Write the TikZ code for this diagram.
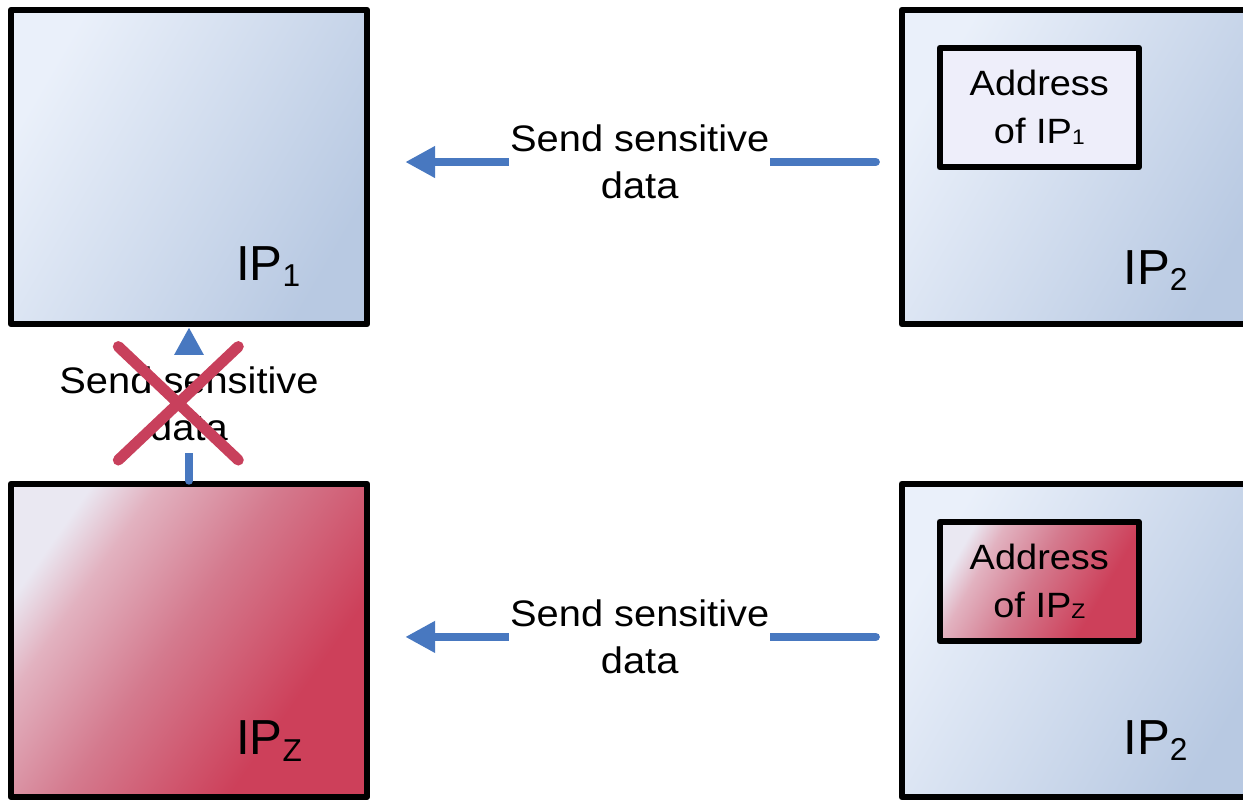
\documentclass[tikz,border=0pt]{standalone}
\usepackage{fontspec}
\setmainfont{Liberation Sans}
\newfontfamily\msgfont{Liberation Sans}[FakeStretch=1.08]
\usepackage{xcolor}
\usepackage{tikz}
\usetikzlibrary{shapes, shapes.misc, arrows.meta, positioning, calc}

\definecolor{ipLight}{RGB}{234,240,250}
\definecolor{ipDark}{RGB}{184,201,226}
\definecolor{zLight}{RGB}{234,232,242}
\definecolor{zPale}{RGB}{226,178,192}
\definecolor{zMid}{RGB}{212,122,142}
\definecolor{zDark}{RGB}{205,64,90}
\definecolor{addrFill}{RGB}{238,238,250}
\definecolor{flowBlue}{RGB}{72,120,192}
\definecolor{stopRed}{RGB}{200,64,92}

\pgfdeclareverticalshading{zshade}{100bp}{color(0bp)=(zDark); color(32bp)=(zDark); color(52bp)=(zMid); color(67bp)=(zPale); color(75bp)=(zLight); color(100bp)=(zLight)}

\newcommand{\ipsub}[3]{\raisebox{-#2}{\fontsize{#1}{#1}\selectfont #3}}

\begin{document}
\begin{tikzpicture}[
    x=0.02cm, y=-0.02cm,
    ipbox/.style={rectangle, draw, line width=0.13cm, line join=round, minimum width=7.12cm, minimum height=6.28cm,
        shading=axis, top color=ipLight, bottom color=ipDark, shading angle=60},
    zbox/.style={ipbox, shading=zshade, shading angle=55},
    addr/.style={rectangle, draw, line width=0.13cm, line join=round, minimum width=3.98cm, minimum height=2.38cm,
        align=center, inner sep=0pt, font=\msgfont\fontsize{20}{27}\selectfont},
    iplabel/.style={inner sep=0pt, anchor=base west, font=\fontsize{28}{34}\selectfont},
    msg/.style={fill=white, align=center, inner xsep=0.5pt, inner ysep=7pt, font=\msgfont\fontsize{21}{26.5}\selectfont},
    flow/.style={draw=flowBlue, line width=0.16cm, line cap=round, -{Triangle[length=0.6cm, width=0.6cm]}}
]

\clip (0,0) rectangle (1243,799);

\node[ipbox] (IPone) at (189,167) {};
\node[ipbox, minimum width=7.2cm, right=10.57cm of IPone] (IPtwo) {};
\node[zbox, minimum height=6.26cm, below=3.07cm of IPone] (IPz) {};
\node[ipbox, minimum height=6.26cm, right=10.57cm of IPz] (IPtwoB) {};

\node[addr, fill=addrFill, anchor=north west] (AddrOne) at ([shift={(0.76cm,-0.76cm)}]IPtwo.north west) {Address\\of IP\ipsub{12}{1pt}{1}};
\node[addr, shading=zshade, shading angle=60, anchor=north west]
    (AddrZ) at ([shift={(0.76cm,-0.76cm)}]IPtwoB.north west) {Address\\of IP\ipsub{12}{1pt}{Z}};

\node[iplabel] (LblOne) at ([shift={(-2.69cm,0.925cm)}]IPone.south east) {IP\ipsub{18}{3.3pt}{1}};
\node[iplabel] (LblTwo) at ([shift={(4.49cm,0.845cm)}]IPtwo.south west) {IP\ipsub{18}{3.3pt}{2}};
\node[iplabel] (LblZ) at ([shift={(-2.69cm,0.905cm)}]IPz.south east) {IP\ipsub{18}{3.8pt}{Z}};
\node[iplabel] (LblTwoB) at ([shift={(4.49cm,0.905cm)}]IPtwoB.south west) {IP\ipsub{18}{3.3pt}{2}};

\draw[flow, shorten <=0.455cm, shorten >=0.7cm] ([yshift=0.1cm]IPtwo.west) -- node[msg, pos=0.49] {Send sensitive\\data} ([yshift=0.1cm]IPone.east);
\draw[flow, shorten <=0.455cm, shorten >=0.7cm] ([yshift=0.07cm]IPtwoB.west) -- node[msg, pos=0.49] {Send sensitive\\data} ([yshift=0.07cm]IPz.east);
\draw[flow] (IPz.north) -- node[msg] (Blocked) {Send sensitive\\data} (IPone.south);

\node[cross out, draw=stopRed, line width=0.22cm, line cap=round, inner sep=0pt, minimum width=2.18cm, minimum height=2.05cm] (Stop) at (178.3,403.3) {};

\end{tikzpicture}
\end{document}
